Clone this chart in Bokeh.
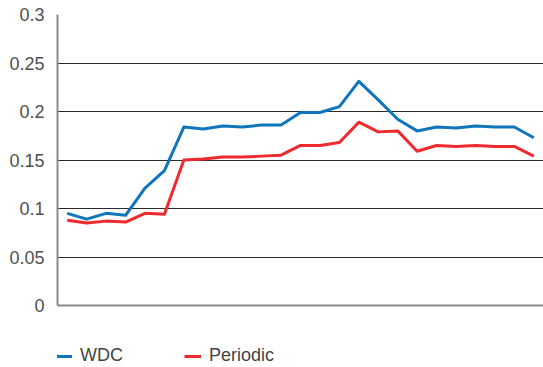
from bokeh.plotting import figure
from bokeh.models import Range1d, FixedTicker, CustomJSTickFormatter, Legend, LegendItem, Span
from bokeh.embed import file_html
from bokeh.resources import INLINE

x_index = list(range(1, 26))
wdc = [0.095, 0.089, 0.095, 0.093, 0.121, 0.139, 0.184, 0.182, 0.185, 0.184, 0.186, 0.186,
       0.199, 0.199, 0.205, 0.231, 0.212, 0.192, 0.180, 0.184, 0.183, 0.185, 0.184, 0.184, 0.173]
periodic = [0.088, 0.085, 0.087, 0.086, 0.095, 0.094, 0.150, 0.151, 0.153, 0.153, 0.154, 0.155,
            0.165, 0.165, 0.168, 0.189, 0.179, 0.180, 0.159, 0.165, 0.164, 0.165, 0.164, 0.164, 0.154]
y_ticks = [0, 0.05, 0.1, 0.15, 0.2, 0.25, 0.3]
series_names = ["WDC", "Periodic"]

FONT = "Liberation Sans"

# frame spans down to the figure bottom so the legend can sit inside it
p = figure(width=543, height=367, output_backend="svg", toolbar_location=None,
           x_range=Range1d(0.5, 25.5), y_range=Range1d(-0.0639, 0.3),
           min_border_left=57, min_border_right=0, min_border_top=14, min_border_bottom=0)
p.outline_line_color = None
p.background_fill_color = "white"

p.xaxis.visible = False
p.yaxis.ticker = FixedTicker(ticks=y_ticks)
p.yaxis.bounds = (0, 0.3)
p.yaxis.formatter = CustomJSTickFormatter(code="""
let s = tick.toFixed(2);
s = s.replace(/0+$/, '').replace(/\\.$/, '');
return s;
""")
p.yaxis.axis_line_color = "#8a8a8a"
p.yaxis.axis_line_width = 2
p.yaxis.major_tick_line_color = None
p.yaxis.minor_tick_line_color = None
p.yaxis.major_label_standoff = 7
p.yaxis.major_label_text_font = FONT
p.yaxis.major_label_text_font_size = "18px"
p.yaxis.major_label_text_color = "#505050"

p.xgrid.visible = False
p.ygrid.ticker = FixedTicker(ticks=y_ticks[1:])
p.ygrid.grid_line_color = "#2a2a2a"
p.ygrid.grid_line_width = 1

p.add_layout(Span(location=0, dimension="width", line_color="#8a8a8a", line_width=2))

r1 = p.line(x_index, wdc, line_color="#0f75bc", line_width=3, line_join="round")
r2 = p.line(x_index, periodic, line_color="#ee2a2f", line_width=3, line_join="round")

def make_legend(label, renderer, x):
    lg = Legend(items=[LegendItem(label=label, renderers=[renderer])],
                location=(x, 1), orientation="horizontal",
                glyph_width=17, glyph_height=20, label_height=20, label_standoff=8,
                label_text_font=FONT, label_text_font_size="18px", label_text_color="#444444",
                padding=0, margin=0, border_line_alpha=0, background_fill_alpha=0)
    p.add_layout(lg, "center")

make_legend(series_names[0], r1, -2)
make_legend(series_names[1], r2, 127)

open("out.html", "w").write(file_html(p, INLINE))
